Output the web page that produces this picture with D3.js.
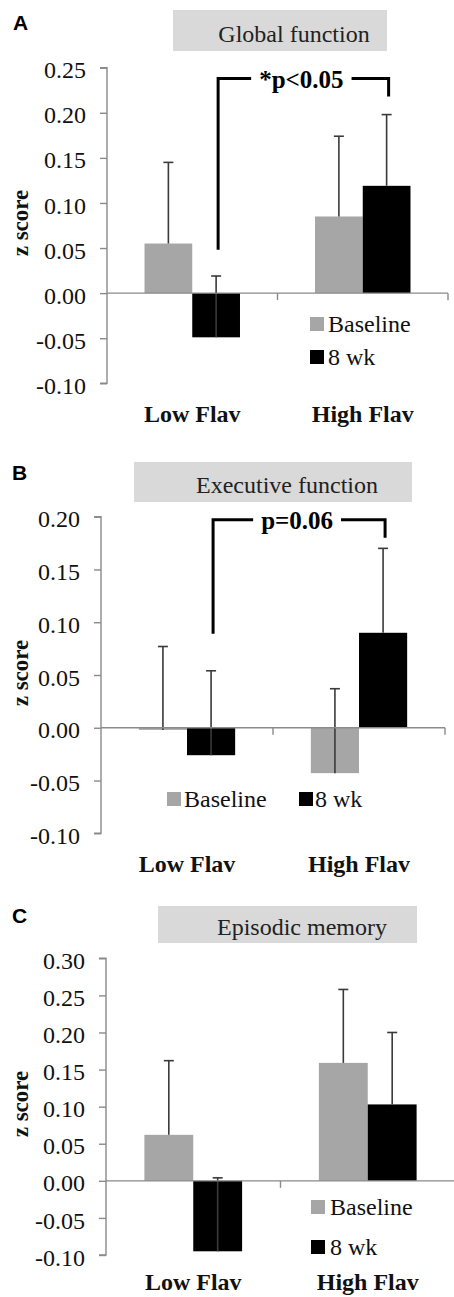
<!DOCTYPE html>
<html><head><meta charset="utf-8">
<script src="https://cdn.jsdelivr.net/npm/d3@7"></script>
<style>html,body{margin:0;padding:0;background:#fff;} svg{display:block;}</style>
</head><body><svg id="chart" width="454" height="1297"></svg>
<script>
// ---------- data ----------
const categories = ["Low Flav", "High Flav"];
const seriesNames = ["Baseline", "8 wk"];
const panelLetters = ["A", "B", "C"];
const panelTitles = ["Global function", "Executive function", "Episodic memory"];
const yAxisLabel = "z score";

const globalBaseline = [0.055, 0.085];
const globalWeek8 = [-0.049, 0.119];
const globalBaselineErr = [0.090, 0.089];
const globalWeek8Err = [0.068, 0.079];
const globalTicks = [-0.10, -0.05, 0.00, 0.05, 0.10, 0.15, 0.20, 0.25];

const execBaseline = [-0.002, -0.043];
const execWeek8 = [-0.026, 0.090];
const execBaselineErr = [0.079, 0.080];
const execWeek8Err = [0.080, 0.080];
const execTicks = [-0.10, -0.05, 0.00, 0.05, 0.10, 0.15, 0.20];

const episBaseline = [0.062, 0.159];
const episWeek8 = [-0.095, 0.103];
const episBaselineErr = [0.100, 0.099];
const episWeek8Err = [0.099, 0.097];
const episTicks = [-0.10, -0.05, 0.00, 0.05, 0.10, 0.15, 0.20, 0.25, 0.30];

// significance brackets: low 8 wk -> high 8 wk
const sigLabels = ["*p<0.05", "p=0.06", null];
const sigLeftValue = [0.048, 0.089, null];
const sigRightValue = [0.218, 0.180, null];
const sigTopValue = [0.238, 0.197, null];

// ---------- layout ----------
const colors = ["#a6a6a6", "#000000"];
const serif = "'Liberation Serif','Times New Roman',serif";
const sans = "'Liberation Sans',Arial,sans-serif";

const panels = [
  { values: [globalBaseline, globalWeek8], errs: [globalBaselineErr, globalWeek8Err], ticks: globalTicks,
    left: 107, right: 448, top: 67.7, bottom: 383.3,
    letter: [13, 30], box: [173, 10, 387, 51], titleX: 294, titleY: 42,
    xLabelY: 422, zLabel: [28, 223],
    legend: [[310, 317, 328], [310, 350, 328]] },
  { values: [execBaseline, execWeek8], errs: [execBaselineErr, execWeek8Err], ticks: execTicks,
    left: 101, right: 445, top: 516.7, bottom: 833.3,
    letter: [12, 480], box: [134, 462, 412, 502], titleX: 287, titleY: 493,
    xLabelY: 871.7, zLabel: [28, 673],
    legend: [[167, 792, 184], [299, 792, 315]] },
  { values: [episBaseline, episWeek8], errs: [episBaselineErr, episWeek8Err], ticks: episTicks,
    left: 106, right: 455, top: 958.3, bottom: 1255,
    letter: [12, 923], box: [158, 906, 417, 943], titleX: 302, titleY: 935,
    xLabelY: 1290, zLabel: [28, 1104],
    legend: [[311, 1200, 330], [311, 1240, 330]] }
];

const svg = d3.select("#chart");
svg.append("rect").attr("width", 454).attr("height", 1297).attr("fill", "#fff");

panels.forEach((p, pi) => {
  const g = svg.append("g");
  const y = d3.scaleLinear()
    .domain([d3.min(p.ticks), d3.max(p.ticks)])
    .range([p.bottom, p.top]);
  const x0 = d3.scaleBand().domain(categories).range([p.left, p.right])
    .paddingInner(0.44).paddingOuter(0.22);
  const x1 = d3.scaleBand().domain(seriesNames).range([0, x0.bandwidth()]).padding(0);

  // panel letter
  g.append("text").attr("x", p.letter[0]).attr("y", p.letter[1])
    .attr("font-family", sans).attr("font-weight", "bold").attr("font-size", 21)
    .text(panelLetters[pi]);

  // title box
  g.append("rect").attr("x", p.box[0]).attr("y", p.box[1])
    .attr("width", p.box[2] - p.box[0]).attr("height", p.box[3] - p.box[1])
    .attr("fill", "#d9d9d9");
  g.append("text").attr("x", p.titleX).attr("y", p.titleY)
    .attr("text-anchor", "middle").attr("font-family", serif).attr("font-size", 24)
    .attr("fill", "#222").text(panelTitles[pi]);

  // y axis
  const yAxis = d3.axisLeft(y).tickValues(p.ticks).tickSize(7).tickPadding(14)
    .tickFormat(d3.format(".2f"));
  const ya = g.append("g").attr("transform", `translate(${p.left},0)`).call(yAxis);
  ya.select(".domain").attr("stroke", "#8a8a8a").attr("stroke-width", 1.4)
    .attr("d", `M-7,${p.top}H0V${p.bottom}H-7`);
  ya.selectAll(".tick line").attr("stroke", "#8a8a8a").attr("stroke-width", 1.4);
  ya.selectAll(".tick text").attr("font-family", serif).attr("font-size", 24)
    .attr("fill", "#111").attr("dy", "0.42em")
    .text(d => d3.format(".2f")(d).replace("−", "-"));

  // bars
  const data = [];
  categories.forEach((c, ci) => seriesNames.forEach((s, si) => {
    data.push({ c, s, si, v: p.values[si][ci], e: p.errs[si][ci] });
  }));
  g.selectAll(".bar").data(data).join("rect")
    .attr("x", d => x0(d.c) + x1(d.s))
    .attr("width", x1.bandwidth())
    .attr("y", d => y(Math.max(0, d.v)))
    .attr("height", d => Math.max(0.8, Math.abs(y(d.v) - y(0))))
    .attr("fill", d => colors[d.si]);

  // error bars (plus direction)
  const eb = g.selectAll(".err").data(data).join("g");
  eb.append("line")
    .attr("x1", d => x0(d.c) + x1(d.s) + x1.bandwidth() / 2)
    .attr("x2", d => x0(d.c) + x1(d.s) + x1.bandwidth() / 2)
    .attr("y1", d => y(d.v)).attr("y2", d => y(d.v + d.e))
    .attr("stroke", "#3a3a3a").attr("stroke-width", 1.6);
  eb.append("line")
    .attr("x1", d => x0(d.c) + x1(d.s) + x1.bandwidth() / 2 - 5)
    .attr("x2", d => x0(d.c) + x1(d.s) + x1.bandwidth() / 2 + 5)
    .attr("y1", d => y(d.v + d.e)).attr("y2", d => y(d.v + d.e))
    .attr("stroke", "#3a3a3a").attr("stroke-width", 1.6);

  // x axis at zero
  const y0 = y(0);
  g.append("line").attr("x1", p.left).attr("x2", p.right).attr("y1", y0).attr("y2", y0)
    .attr("stroke", "#8a8a8a").attr("stroke-width", 1.4);
  const step = x0.step();
  const bounds = [p.left + step, p.right];
  g.selectAll(".xt").data(bounds).join("line")
    .attr("x1", d => d).attr("x2", d => d).attr("y1", y0).attr("y2", y0 + 7)
    .attr("stroke", "#8a8a8a").attr("stroke-width", 1.4);

  // category labels
  g.selectAll(".xl").data(categories).join("text")
    .attr("x", d => x0(d) + x0.bandwidth() / 2).attr("y", p.xLabelY)
    .attr("text-anchor", "middle").attr("font-family", serif).attr("font-weight", "bold")
    .attr("font-size", 24).attr("fill", "#111").text(d => d);

  // y axis label
  g.append("text").attr("transform", `translate(${p.zLabel[0]},${p.zLabel[1]}) rotate(-90)`)
    .attr("text-anchor", "middle").attr("font-family", serif).attr("font-weight", "bold")
    .attr("font-size", 23).attr("fill", "#111").text(yAxisLabel);

  // legend
  seriesNames.forEach((s, si) => {
    const L = p.legend[si];
    g.append("rect").attr("x", L[0]).attr("y", L[1]).attr("width", 14).attr("height", 14)
      .attr("fill", colors[si]);
    g.append("text").attr("x", L[2]).attr("y", L[1] + 15)
      .attr("font-family", serif).attr("font-size", 24).attr("fill", "#111").text(s);
  });

  // significance bracket
  if (sigLabels[pi]) {
    const lx = x0(categories[0]) + x1(seriesNames[1]) + x1.bandwidth() / 2 + 2;
    const rx = x0(categories[1]) + x1(seriesNames[1]) + x1.bandwidth() / 2 + 2;
    const ty = y(sigTopValue[pi]);
    const cx = (lx + rx) / 2 - 2;
    const t = g.append("text").attr("x", cx).attr("y", ty + 9)
      .attr("text-anchor", "middle").attr("font-family", serif).attr("font-weight", "bold")
      .attr("font-size", 25).attr("fill", "#000").text(sigLabels[pi]);
    const tw = t.node().getComputedTextLength();
    const path = d3.path();
    path.moveTo(lx, y(sigLeftValue[pi])); path.lineTo(lx, ty); path.lineTo(cx - tw / 2 - 8, ty);
    path.moveTo(cx + tw / 2 + 8, ty); path.lineTo(rx, ty); path.lineTo(rx, y(sigRightValue[pi]));
    g.append("path").attr("d", path.toString()).attr("fill", "none")
      .attr("stroke", "#000").attr("stroke-width", 3);
  }
});
</script>
</body></html>
